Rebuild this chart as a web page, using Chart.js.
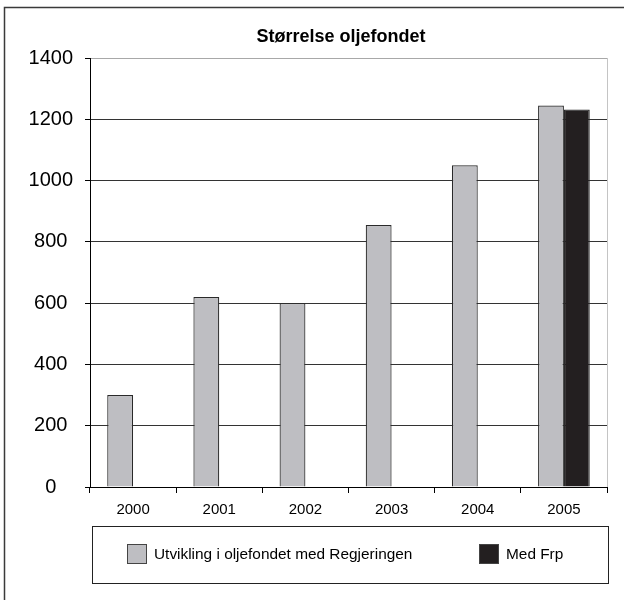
<!DOCTYPE html>
<html>
<head>
<meta charset="utf-8">
<script src="https://cdn.jsdelivr.net/npm/chart.js@4.4.1/dist/chart.umd.min.js"></script>
<style>
  html, body { margin: 0; padding: 0; background: #fff; }
  #wrap { width: 624px; height: 600px; }
</style>
</head>
<body>
<div id="wrap"><canvas id="c" width="624" height="600"></canvas></div>
<script>
const chartTitle = "Størrelse oljefondet";
const years = ["2000", "2001", "2002", "2003", "2004", "2005"];
const regjeringenLabel = "Utvikling i oljefondet med Regjeringen";
const regjeringenValues = [300, 620, 600, 855, 1050, 1245];
const frpLabel = "Med Frp";
const frpValues = [null, null, null, null, null, 1232];
const yTicks = [0, 200, 400, 600, 800, 1000, 1200, 1400];

const FONT = "'Liberation Sans', Arial, sans-serif";
const GRAY = "#bebec2";
const BLACK = "#231f20";

const decor = {
  id: "decor",
  beforeDraw(chart) {
    const c = chart.ctx;
    c.save();
    c.fillStyle = "#fff";
    c.fillRect(0, 0, chart.width, chart.height);
    c.restore();
  },
  afterDraw(chart) {
    const c = chart.ctx;
    const a = chart.chartArea;
    c.save();
    // outer frame (top + left visible)
    c.strokeStyle = "#3a3a3a";
    c.lineWidth = 1.5;
    c.beginPath();
    c.moveTo(4.5, 640);
    c.lineTo(4.5, 7.5);
    c.lineTo(640, 7.5);
    c.stroke();
    // plot right border
    c.strokeStyle = "#c4c4c4";
    c.lineWidth = 1;
    c.beginPath();
    c.moveTo(Math.round(a.right) + 0.5, a.top);
    c.lineTo(Math.round(a.right) + 0.5, a.bottom);
    c.stroke();
    // title
    c.fillStyle = "#000";
    c.font = "bold 18px " + FONT;
    c.textAlign = "center";
    c.textBaseline = "middle";
    c.fillText(chartTitle, 341, 37);
    // legend box
    c.strokeStyle = "#222";
    c.lineWidth = 1;
    c.strokeRect(92.5, 526.5, 516, 57);
    const ds = chart.data.datasets;
    const items = [{x: 127, ds: ds[0]}, {x: 479, ds: ds[1]}];
    c.font = "15.4px " + FONT;
    c.textAlign = "left";
    items.forEach(it => {
      c.fillStyle = it.ds.backgroundColor;
      c.fillRect(it.x, 544, 19, 19);
      c.strokeStyle = "#444";
      c.strokeRect(it.x + 0.5, 544.5, 19, 19);
      c.fillStyle = "#000";
      c.fillText(it.ds.label, it.x + 27, 555);
    });
    c.restore();
  }
};

new Chart(document.getElementById("c"), {
  type: "bar",
  data: {
    labels: years,
    datasets: [
      { label: regjeringenLabel, data: regjeringenValues, backgroundColor: GRAY, borderColor: "#2a2a2a", borderWidth: 1.2 },
      { label: frpLabel, data: frpValues, backgroundColor: BLACK, borderColor: "#2a2a2a", borderWidth: 1.2 }
    ]
  },
  options: {
    responsive: false,
    animation: false,
    devicePixelRatio: 1,
    categoryPercentage: 0.6,
    barPercentage: 1.0,
    layout: { padding: { top: 58, left: 0, right: 17, bottom: 73 } },
    plugins: {
      legend: { display: false },
      title: { display: false },
      tooltip: { enabled: false }
    },
    scales: {
      x: {
        grid: { offset: true, drawOnChartArea: false, drawTicks: true, tickLength: 6, color: "#000", lineWidth: 1 },
        border: { color: "#000", width: 1 },
        ticks: { color: "#000", font: { family: FONT, size: 15 }, padding: 8, maxRotation: 0 },
        afterFit: s => { s.height = 40; }
      },
      y: {
        min: 0, max: 1400,
        afterBuildTicks: s => { s.ticks = yTicks.map(v => ({ value: v })); },
        grid: {
          color: ctx => (ctx.tick && ctx.tick.value === 1400) ? "#a8a8a8" : "#333",
          tickColor: "#000",
          tickLength: 5,
          lineWidth: 1
        },
        border: { color: "#000", width: 1 },
        ticks: { color: "#000", font: { family: FONT, size: 20 }, padding: 12, crossAlign: "center", callback: v => String(v) },
        afterFit: s => { s.width = 90; }
      }
    }
  },
  plugins: [decor]
});
</script>
</body>
</html>
